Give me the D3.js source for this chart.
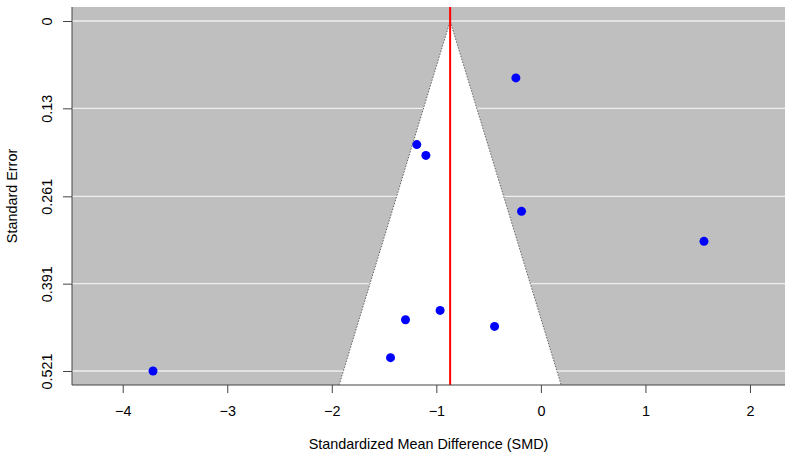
<!DOCTYPE html>
<html>
<head>
<meta charset="utf-8">
<script src="https://cdn.jsdelivr.net/npm/d3@7"></script>
<style>
  body { margin: 0; background: #fff; }
  text { font-family: "Liberation Sans", Arial, sans-serif; }
</style>
</head>
<body>
<div id="chart"></div>
<script>
// study estimates (SMD) and their standard errors
const smd = [-0.239, -1.187, -1.100, -0.185, 1.560, -0.964, -1.295, -0.443, -1.438, -3.71];
const se = [0.0847, 0.184, 0.2001, 0.2833, 0.328, 0.4308, 0.4447, 0.4546, 0.5011, 0.521];
const pooled = -0.868;
const yTicks = [0, 0.13, 0.261, 0.391, 0.521];
const xTicks = [-4, -3, -2, -1, 0, 1, 2];

const width = 794,
    height = 457,
    margin = { top: 7, right: 9, bottom: 72, left: 72 },
    fontSize = 14.4;

const svg = d3.select("#chart").append("svg")
    .attr("width", width)
    .attr("height", height);

const xScale = d3.scaleLinear()
    .domain([-4.485, 2.335])
    .range([margin.left, width - margin.right]);

const seMax = 0.521;
const yScale = d3.scaleLinear()
    .domain([-0.04 * seMax, seMax * 1.04])
    .range([margin.top, height - margin.bottom]);

const yBottom = yScale.domain()[1];

// gray background
svg.append("rect")
    .attr("x", margin.left)
    .attr("y", margin.top)
    .attr("width", width - margin.left - margin.right)
    .attr("height", height - margin.top - margin.bottom)
    .attr("fill", "#bfbfbf");

// white gridlines
svg.selectAll(".grid")
    .data(yTicks)
    .join("line")
    .attr("x1", margin.left)
    .attr("x2", width - margin.right)
    .attr("y1", d => yScale(d))
    .attr("y2", d => yScale(d))
    .attr("stroke", "#eeeeee")
    .attr("stroke-width", 1.3);

// funnel (pseudo confidence region)
const funnel = [
    [pooled - 1.96 * yBottom, yBottom],
    [pooled, 0],
    [pooled + 1.96 * yBottom, yBottom]
];
svg.append("path")
    .attr("d", d3.line().x(d => xScale(d[0])).y(d => yScale(d[1]))(funnel) + "Z")
    .attr("fill", "#fff");

// dotted funnel edges
svg.append("path")
    .attr("d", d3.line().x(d => xScale(d[0])).y(d => yScale(d[1]))(funnel))
    .attr("fill", "none")
    .attr("stroke", "#555")
    .attr("stroke-width", 0.9)
    .attr("stroke-dasharray", "1.5,1.5");

// pooled estimate line
svg.append("line")
    .attr("x1", xScale(pooled))
    .attr("x2", xScale(pooled))
    .attr("y1", margin.top)
    .attr("y2", height - margin.bottom)
    .attr("stroke", "#ff0000")
    .attr("stroke-width", 2);

// points
svg.selectAll(".pt")
    .data(smd.map((d, i) => ({ x: d, y: se[i] })))
    .join("circle")
    .attr("cx", d => xScale(d.x))
    .attr("cy", d => yScale(d.y))
    .attr("r", 4.5)
    .attr("fill", "#0000ff");

// axes
const xAxis = d3.axisBottom(xScale)
    .tickValues(xTicks)
    .tickFormat(d => d < 0 ? "\u2212" + Math.abs(d) : d)
    .tickSize(8)
    .tickSizeOuter(0)
    .tickPadding(13);

const gx = svg.append("g")
    .attr("transform", `translate(0,${height - margin.bottom})`)
    .call(xAxis);
gx.select(".domain").remove();
gx.append("line")
    .attr("x1", margin.left)
    .attr("x2", width - margin.right)
    .attr("stroke", "#444");
gx.selectAll(".tick line").attr("stroke", "#444");
gx.selectAll("text").attr("font-size", fontSize).attr("fill", "#000");

const yAxis = d3.axisLeft(yScale)
    .tickValues(yTicks)
    .tickFormat(d => String(d))
    .tickSize(9)
    .tickSizeOuter(0);

const gy = svg.append("g")
    .attr("transform", `translate(${margin.left},0)`)
    .call(yAxis);
gy.select(".domain").remove();
gy.append("line")
    .attr("y1", margin.top)
    .attr("y2", height - margin.bottom)
    .attr("stroke", "#444");
gy.selectAll(".tick line").attr("stroke", "#444");
gy.selectAll(".tick text")
    .attr("font-size", fontSize)
    .attr("fill", "#000")
    .attr("x", 0)
    .attr("dy", 0)
    .attr("text-anchor", "middle")
    .attr("transform", "translate(-20,0) rotate(-90)");

// axis titles
svg.append("text")
    .attr("x", (margin.left + width - margin.right) / 2)
    .attr("y", 449)
    .attr("text-anchor", "middle")
    .attr("font-size", fontSize)
    .text("Standardized Mean Difference (SMD)");

svg.append("text")
    .attr("transform", `translate(17,${(margin.top + height - margin.bottom) / 2}) rotate(-90)`)
    .attr("text-anchor", "middle")
    .attr("font-size", fontSize)
    .text("Standard Error");
</script>
</body>
</html>
